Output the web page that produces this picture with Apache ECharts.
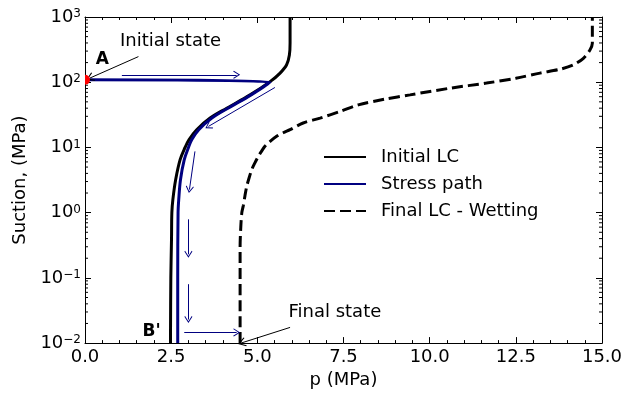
<!DOCTYPE html>
<html>
<head>
<meta charset="utf-8">
<script src="https://cdn.jsdelivr.net/npm/echarts@6/dist/echarts.min.js"></script>
<style>
  html, body { margin: 0; padding: 0; background: #ffffff; }
  #chart { width: 634px; height: 394px; }
</style>
</head>
<body>
<div id="chart"></div>
<script>
// Loading-collapse (LC) yield curves in the p - suction plane, with the stress path.
// p values in MPa, suction values in MPa.
const initialLcP = [5.95, 5.95, 5.93, 5.85, 5.66, 5.37, 4.79, 4.11, 3.63, 3.24, 3.02, 2.90, 2.76, 2.63, 2.55, 2.52, 2.51, 2.49, 2.48];
const initialLcS = [1000, 400, 262, 185, 138, 102, 64, 40, 28.2, 18.7, 13.2, 9.9, 6.5, 3.2, 1.6, 1.0, 0.39, 0.1, 0.01];

const stressPathP = [0.0, 5.37, 4.82, 4.15, 3.68, 3.30, 3.10, 3.00, 2.88, 2.77, 2.72, 2.70, 2.69, 2.69];
const stressPathS = [109, 101, 64, 40, 28.2, 18.7, 13.2, 9.9, 6.5, 3.2, 1.6, 1.0, 0.1, 0.01];

const finalLcP = [4.50, 4.50, 4.52, 4.55, 4.59, 4.64, 4.69, 4.76, 4.84, 4.93, 5.03, 5.12, 5.22, 5.38, 5.56, 5.75, 5.95, 6.33, 6.82, 7.40, 7.93, 8.70, 9.43, 10.59, 11.65, 12.50, 13.20, 13.78, 14.17, 14.46, 14.65, 14.72, 14.72];
const finalLcS = [0.01, 0.3, 0.6, 1.0, 1.26, 1.8, 2.5, 3.4, 4.6, 5.8, 7.3, 8.7, 10.4, 12.5, 14.8, 16.8, 18.7, 23.7, 28.2, 35.6, 45, 55, 64, 81, 97, 115, 138, 158, 185, 233, 313, 396, 1000];

// Point A (initial state)
const initialPoint = [0.0, 109];

// Direction arrows along the stress path: [from, to] as [p, s]
const pathArrowFrom = [[1.07, 130], [5.51, 83], [3.19, 8.7], [3.00, 0.79], [3.00, 0.08], [2.88, 0.0146]];
const pathArrowTo   = [[4.40, 130], [3.58, 21], [3.03, 2.26], [3.00, 0.23], [3.00, 0.023], [4.40, 0.0146]];

// Annotation arrows and texts
const noteArrowFrom = [[1.55, 247], [5.95, 0.0174]];
const noteArrowTo   = [[0.145, 116], [4.55, 0.0101]];
const noteTexts = ['Initial state', 'Final state'];
const noteAt = [[2.48, 422], [7.25, 0.0292]];
const pointTexts = ['A', "B'"];
const pointTextAt = [[0.50, 224], [1.93, 0.015]];

// Axis tick labels
const xTickLabels = ['0.0', '2.5', '5.0', '7.5', '10.0', '12.5', '15.0'];
const yTickExponents = ['\u22122', '\u22121', '0', '1', '2', '3'];

const legendNames = ['Initial LC', 'Stress path', 'Final LC - Wetting'];

// Minor tick positions on the logarithmic suction axis (2..9 within each decade)
const yMinorTicks = [];
for (let e = -2; e < 3; e++) {
  for (let m = 2; m <= 9; m++) yMinorTicks.push(m * Math.pow(10, e));
}

const zip = (xs, ys) => xs.map((x, i) => [x, ys[i]]);
const FONT = 'DejaVu Sans';
const NAVY = '#000080';
const openArrow = 'path://M0,0 L6,9 L5,10 L0,2.5 L-5,10 L-6,9 Z';

const chart = echarts.init(document.getElementById('chart'), null, { renderer: 'canvas' });

const xAxisBase = {
  type: 'value', min: 0, max: 15, interval: 2.5,
  axisLine: { show: true, onZero: false, lineStyle: { color: '#000', width: 1 } },
  axisTick: { show: true, inside: true, length: 6, lineStyle: { color: '#000' } },
  minorTick: { show: true, splitNumber: 5, length: 3, lineStyle: { color: '#000' } },
  splitLine: { show: false }, minorSplitLine: { show: false }
};
const yAxisBase = {
  type: 'log', logBase: 10, min: 0.01, max: 1000,
  axisLine: { show: true, onZero: false, lineStyle: { color: '#000', width: 1 } },
  axisTick: { show: true, inside: true, length: 6, lineStyle: { color: '#000' } },
  splitLine: { show: false }
};

// text labels placed in data coordinates
const textItems = noteAt.map((c, i) => ({ value: c, text: noteTexts[i], bold: false, size: 18 }))
  .concat(pointTextAt.map((c, i) => ({ value: c, text: pointTexts[i], bold: true, size: 17 })));

const option = {
  animation: false,
  backgroundColor: '#ffffff',
  textStyle: { fontFamily: FONT },
  grid: { left: 85, right: 32, top: 17, bottom: 50, containLabel: false },
  legend: {
    data: legendNames,
    orient: 'vertical',
    left: 323, top: 148, padding: 0,
    itemWidth: 42, itemHeight: 14, itemGap: 9,
    itemStyle: { opacity: 0 },
    textStyle: { fontFamily: FONT, fontSize: 18, color: '#000', padding: [0, 0, 0, 10] },
    selectedMode: false
  },
  xAxis: [
    Object.assign({}, xAxisBase, {
      position: 'bottom',
      name: 'p (MPa)', nameLocation: 'middle', nameGap: 26,
      nameTextStyle: { fontFamily: FONT, fontSize: 18, color: '#000' },
      axisLabel: {
        show: true, margin: 5, color: '#000', fontFamily: FONT, fontSize: 18,
        formatter: (v) => xTickLabels[Math.round(v / 2.5)]
      }
    }),
    Object.assign({}, xAxisBase, { position: 'top', axisLabel: { show: false } })
  ],
  yAxis: [
    Object.assign({}, yAxisBase, {
      position: 'left',
      name: 'Suction, (MPa)', nameLocation: 'middle', nameGap: 43,
      nameTextStyle: { fontFamily: FONT, fontSize: 18, color: '#000' },
      axisLabel: {
        show: true, margin: 4, color: '#000', fontFamily: FONT, fontSize: 18,
        formatter: (v) => '10{s|' + yTickExponents[Math.round(Math.log10(v)) + 2] + '}',
        rich: { s: { fontSize: 12, fontFamily: FONT, verticalAlign: 'top', color: '#000' } }
      }
    }),
    Object.assign({}, yAxisBase, { position: 'right', axisLabel: { show: false } })
  ],
  series: [
    {
      name: 'Final LC - Wetting', type: 'line', data: zip(finalLcP, finalLcS),
      symbol: 'none', smooth: 0.3, silent: true,
      lineStyle: { color: '#000', width: 3, type: [11, 5] }, itemStyle: { color: '#000', opacity: 0 }
    },
    {
      name: 'Initial LC', type: 'line', data: zip(initialLcP, initialLcS),
      symbol: 'none', smooth: 0.35, silent: true,
      lineStyle: { color: '#000', width: 3 }, itemStyle: { color: '#000', opacity: 0 }
    },
    {
      name: 'Stress path', type: 'line', data: zip(stressPathP, stressPathS),
      symbol: 'none', smooth: 0.35, silent: true,
      lineStyle: { color: NAVY, width: 3 }, itemStyle: { color: NAVY, opacity: 0 }
    },
    {
      // direction arrows of the stress path
      type: 'line', data: [], silent: true,
      markLine: {
        silent: true, animation: false,
        symbol: ['none', openArrow], symbolSize: [8, 7],
        label: { show: false },
        lineStyle: { color: NAVY, width: 1, type: 'solid' },
        emphasis: { disabled: true },
        data: pathArrowFrom.map((a, i) => [{ coord: a }, { coord: pathArrowTo[i] }])
      }
    },
    {
      // annotation arrows
      type: 'line', data: [], silent: true,
      markLine: {
        silent: true, animation: false,
        symbol: ['none', openArrow], symbolSize: [9, 8],
        label: { show: false },
        lineStyle: { color: '#000', width: 1, type: 'solid' },
        emphasis: { disabled: true },
        data: noteArrowFrom.map((a, i) => [{ coord: a }, { coord: noteArrowTo[i] }])
      }
    },
    {
      // annotation texts
      type: 'custom', silent: true, z: 6,
      data: textItems.map((t) => t.value),
      renderItem: (params, api) => {
        const t = textItems[params.dataIndex];
        const c = api.coord([api.value(0), api.value(1)]);
        return {
          type: 'text', x: c[0], y: c[1],
          style: {
            text: t.text, fill: '#000',
            fontFamily: FONT, fontSize: t.size, fontWeight: t.bold ? 'bold' : 'normal',
            align: 'center', verticalAlign: 'middle'
          }
        };
      }
    },
    {
      // point A, clipped by the axis to a half disc
      type: 'custom', silent: true, z: 5,
      data: [initialPoint],
      renderItem: (params, api) => {
        const c = api.coord([api.value(0), api.value(1)]);
        return {
          type: 'sector',
          shape: { cx: c[0], cy: c[1], r: 5, r0: 0, startAngle: -Math.PI / 2, endAngle: Math.PI / 2, clockwise: true },
          style: { fill: '#ff0000' }
        };
      }
    },
    {
      // minor ticks of the log axis on the left and right frame edges
      type: 'custom', silent: true,
      data: yMinorTicks.map((v) => [0, v]),
      renderItem: (params, api) => {
        const cs = params.coordSys;
        const y = api.coord([0, api.value(1)])[1];
        return {
          type: 'group',
          children: [
            { type: 'line', shape: { x1: cs.x, y1: y, x2: cs.x + 3, y2: y }, style: { stroke: '#000', lineWidth: 1 } },
            { type: 'line', shape: { x1: cs.x + cs.width - 3, y1: y, x2: cs.x + cs.width, y2: y }, style: { stroke: '#000', lineWidth: 1 } }
          ]
        };
      }
    }
  ]
};

chart.setOption(option);
</script>
</body>
</html>
